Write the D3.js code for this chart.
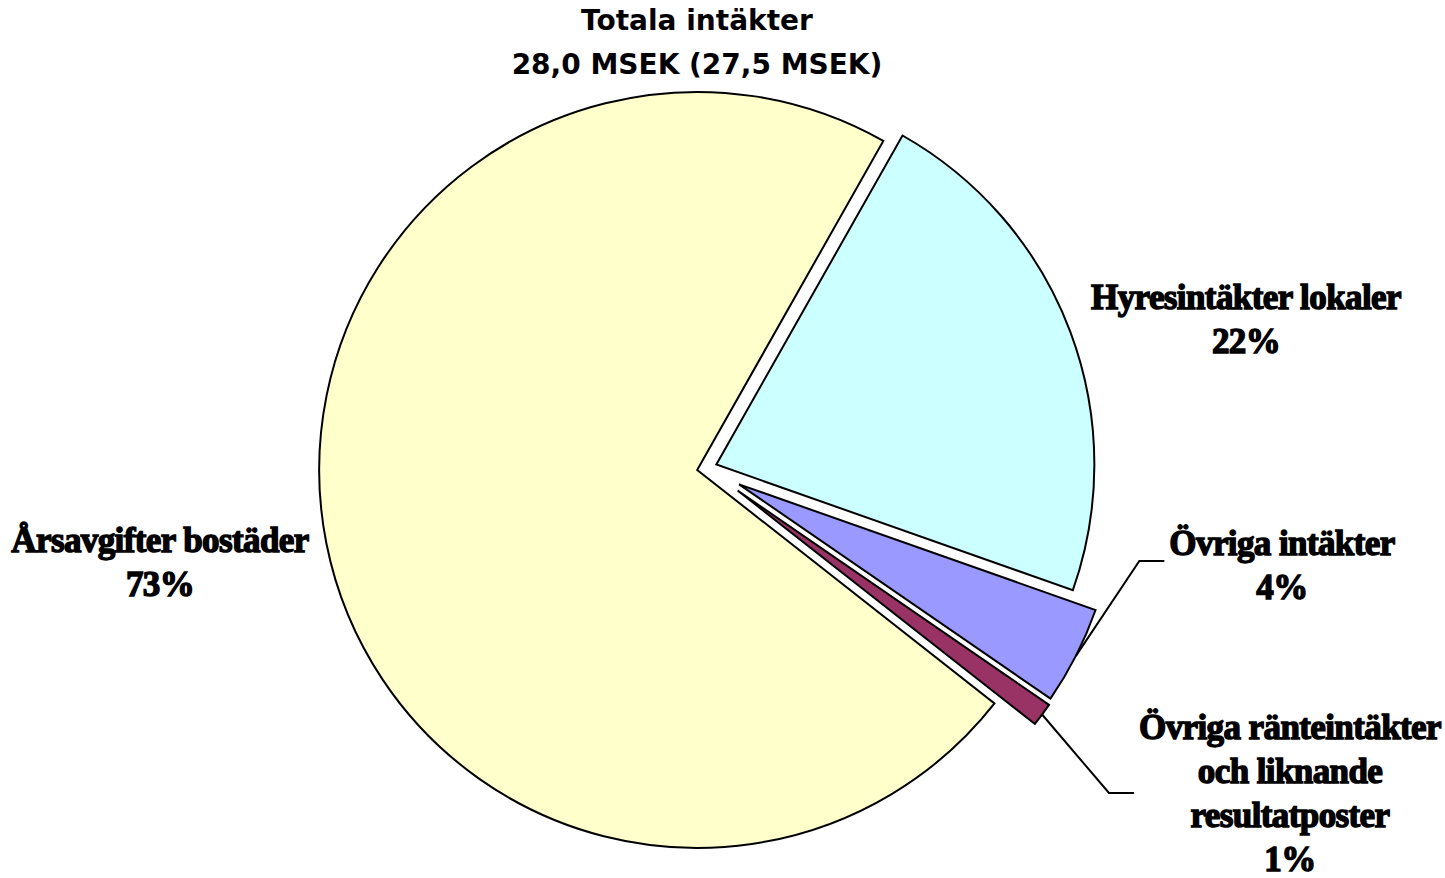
<!DOCTYPE html>
<html>
<head>
<meta charset="utf-8">
<script src="https://cdn.jsdelivr.net/npm/d3@7"></script>
<style>
  body { margin: 0; background: #fff; }
  .lbl { font-family: "Liberation Serif", "Times New Roman", serif; font-weight: bold; font-size: 35px; letter-spacing: -0.6px; fill: #000; stroke: #000; stroke-width: 1.4px; }
  .title { font-family: "DejaVu Sans", Verdana, sans-serif; font-weight: bold; font-size: 28px; fill: #000; }
</style>
</head>
<body>
<script>
'use strict';

// slices, in drawing order (clockwise from the first one)
const categories = ["Hyresintäkter lokaler", "Övriga intäkter",
  "Övriga ränteintäkter och liknande resultatposter", "Årsavgifter bostäder"];
const labelLines = [["Hyresintäkter lokaler"], ["Övriga intäkter"],
  ["Övriga ränteintäkter", "och liknande", "resultatposter"], ["Årsavgifter bostäder"]];
const shares = [22.2, 4.2, 1.0, 72.6];   // percent of total income
const titleLines = ["Totala intäkter", "28,0 MSEK (27,5 MSEK)"];

// styling
const colors = ["#CCFFFF", "#9999FF", "#993366", "#FFFFCC"];
const explode = [10, 36, 38, 10];
const width = 1445, height = 878;
const cx = 707, cy = 468, radius = 378;
const startDeg = 29.5;
const lineHeight = 44;
// label block centres relative to the pie centre; leader = label was dragged out
const labelPos = [[539, -149], [575, 97], [583, 325], [-547, 94]];
const leader = [false, true, true, false];

const svg = d3.select('body').append('svg')
  .attr('width', width)
  .attr('height', height);

const pie = d3.pie().sort(null)
  .startAngle(startDeg * Math.PI / 180)
  .endAngle(startDeg * Math.PI / 180 + 2 * Math.PI);

const arcs = pie(shares);
const arc = d3.arc().innerRadius(0).outerRadius(radius);

function mid(d) { return (d.startAngle + d.endAngle) / 2; }
function polar(a, r) { return [Math.sin(a) * r, -Math.cos(a) * r]; }

const g = svg.append('g').attr('transform', 'translate(' + cx + ',' + cy + ')');

g.selectAll('path.slice')
  .data(arcs)
  .enter()
  .append('path')
  .attr('class', 'slice')
  .attr('transform', (d, i) => {
    let p = polar(mid(d), explode[i]);
    return 'translate(' + p[0] + ',' + p[1] + ')';
  })
  .attr('d', arc)
  .attr('fill', (d, i) => colors[i])
  .attr('stroke', '#000')
  .attr('stroke-width', 2)
  .attr('stroke-linejoin', 'miter');

arcs.forEach((d, i) => {
  let pos = labelPos[i];
  let lines = labelLines[i].concat([Math.round(d.value) + '%']);
  let top = pos[1] - (lines.length - 1) * lineHeight / 2;
  let t = g.append('text')
    .attr('class', 'lbl')
    .attr('text-anchor', 'middle');
  lines.forEach((line, k) => {
    t.append('tspan')
      .attr('x', pos[0])
      .attr('y', top + k * lineHeight)
      .attr('dy', '0.35em')
      .text(line);
  });

  if (leader[i]) {
    // leader line from the slice edge to the label
    let off = polar(mid(d), explode[i]);
    let edge = polar(mid(d), radius);
    let w = t.node().getBBox().width;
    let leftX = pos[0] - w / 2 - 5;
    let ly = pos[1] - (i === 1 ? 4 : 0);
    let pts = [[off[0] + edge[0], off[1] + edge[1]], [leftX - 25, ly], [leftX, ly]];
    g.append('path')
      .attr('d', d3.line()(pts))
      .attr('fill', 'none')
      .attr('stroke', '#000')
      .attr('stroke-width', 2);
  }
});

// chart title
svg.append('text')
  .attr('class', 'title')
  .attr('text-anchor', 'middle')
  .selectAll('tspan')
  .data(titleLines)
  .enter()
  .append('tspan')
  .attr('x', 697)
  .attr('y', (d, i) => 20 + i * 44)
  .attr('dy', '0.35em')
  .text(d => d);
</script>
</body>
</html>
